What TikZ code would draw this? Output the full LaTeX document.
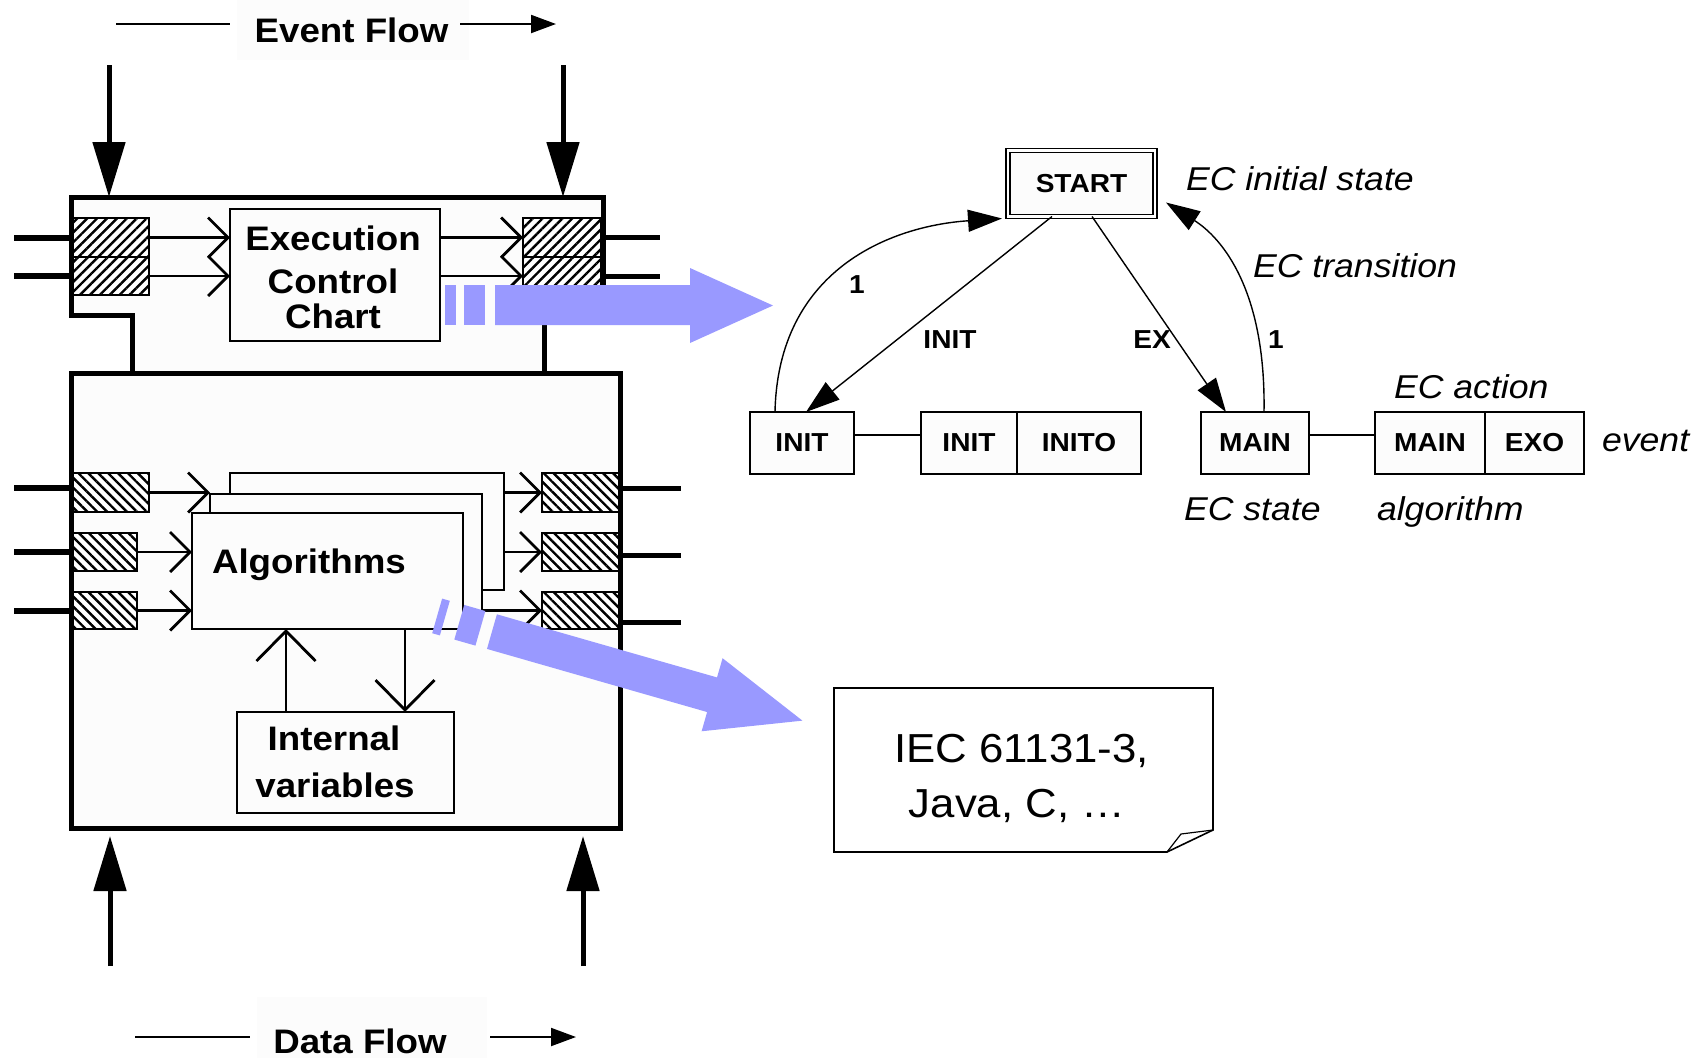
\documentclass[tikz,border=0pt]{standalone}
\usepackage{fontspec}
\setmainfont{Liberation Sans}[FakeStretch=1.08]
\usetikzlibrary{arrows.meta,patterns.meta}
\definecolor{flowblue}{RGB}{153,153,255}
\definecolor{stip}{gray}{0.99}
\tikzset{
  every node/.style={inner sep=0pt, outer sep=0pt},
  bl/.style={font=\bfseries\fontsize{34}{38}\selectfont},
  sl/.style={font=\bfseries\fontsize{26}{30}\selectfont},
  il/.style={font=\itshape\fontsize{33}{38}\selectfont},
  ll/.style={font=\fontsize{40.5}{56}\selectfont},
  heavy/.style={line width=5pt},
  inln/.style={line width=6pt},
  outln/.style={line width=5pt},
  flowln/.style={line width=2pt},
  flowarr/.style={line width=2pt, -{Triangle[length=25pt,width=18pt]}},
  bigarrow/.style={line width=5pt, -{Triangle[length=55pt,width=32pt]}},
  thinarr/.style={line width=2.8pt, -{Straight Barb[length=20pt,width=40pt]}},
  ivarr/.style={line width=2.8pt, -{Straight Barb[length=30pt,width=59pt]}},
  hatchU/.style={draw, line width=1.5pt, preaction={fill=white},
    pattern={Lines[angle=45,distance=7pt,line width=2.4pt]}, pattern color=black},
  hatchD/.style={draw, line width=1.5pt, preaction={fill=white},
    pattern={Lines[angle=-45,distance=7pt,line width=2.4pt]}, pattern color=black},
  boxn/.style={draw, line width=2pt, fill=stip},
  algbox/.style={draw, line width=1.6pt, fill=stip},
  sbox/.style={draw, line width=1.4pt, fill=stip, sl, minimum height=62pt},
  trarr/.style={line width=1.4pt, -{Triangle[length=34pt,width=22pt]}},
  trln/.style={line width=1.4pt},
  blue/.style={fill=flowblue}
}
\begin{document}
\begin{tikzpicture}[x=1pt,y=-1pt,line join=miter]
\useasboundingbox (0,0) rectangle (1703,1058);

% faint backgrounds
\fill[stip] (237,0) rectangle (469,60);
\fill[stip] (257,997) rectangle (487,1058);
\fill[stip] (71,197) rectangle (603,315);
\fill[stip] (132,315) rectangle (544,373);
\fill[stip] (71,373) rectangle (620,828);

% corner coordinates of the function block
\coordinate (ubnw) at (71,197);
\coordinate (evL) at (109,65);
\coordinate (evR) at (563,65);
\coordinate (dfL) at (110,966);
\coordinate (dfLe) at (110,836);
\coordinate (dfR) at (583,966);
\coordinate (dfRe) at (583,836);

% flow labels
\node[bl, anchor=base] (evt) at (351.5,42) {Event Flow};
\coordinate (e1) at (116,24); \coordinate (e2) at (230,24);
\coordinate (e3) at (460,24); \coordinate (e4) at (556,24);
\draw[flowln] (e1) -- (e2);
\draw[flowarr] (e3) -- (e4);
\node[bl, anchor=base] (dat) at (360,1053) {Data Flow};
\coordinate (f1) at (135,1037); \coordinate (f2) at (250,1037);
\coordinate (f3) at (490,1037); \coordinate (f4) at (576,1037);
\draw[flowln] (f1) -- (f2);
\draw[flowarr] (f3) -- (f4);

% big flow arrows
\draw[bigarrow] (evL) -- (evL |- ubnw);
\draw[bigarrow] (evR) -- (evR |- ubnw);
\draw[bigarrow] (dfL) -- (dfLe);
\draw[bigarrow] (dfR) -- (dfRe);

% hatched ports, upper part
\node[hatchU, minimum width=76pt, minimum height=39pt] (A1) at (111,237.5) {};
\node[hatchU, minimum width=76pt, minimum height=38pt] (A2) at (111,276) {};
\node[hatchU, minimum width=78pt, minimum height=39pt] (B1) at (562,237.5) {};
\node[hatchU, minimum width=78pt, minimum height=38pt] (B2) at (562,276) {};
% hatched ports, lower part
\node[hatchD, minimum width=76pt, minimum height=39pt] (C1) at (111,492.5) {};
\node[hatchD, minimum width=64pt, minimum height=38pt] (C2) at (105,552) {};
\node[hatchD, minimum width=64pt, minimum height=37pt] (C3) at (105,610.5) {};
\node[hatchD, minimum width=78pt, minimum height=39pt] (D1) at (581,492.5) {};
\node[hatchD, minimum width=78pt, minimum height=38pt] (D2) at (581,552) {};
\node[hatchD, minimum width=78pt, minimum height=37pt] (D3) at (581,610.5) {};

% function block outline
\draw[heavy] (132,373) -- (132,315) -- (71,315) -- (71,197) -- (603,197) -- (603,315) -- (544,315) -- (544,373);
\draw[heavy] (71,373) rectangle (620,828);

% inputs / outputs
\draw[inln] (A1.west) -- ++(-59,0);
\draw[inln] (A2.west) -- ++(-59,0);
\draw[outln] (B1.east) -- ++(59,0);
\draw[outln] (B2.east) -- ++(59,0);
\draw[inln] ([yshift=4.5pt]C1.west) -- ++(-59,0);
\draw[inln] (C2.west) -- ++(-59,0);
\draw[inln] (C3.west) -- ++(-59,0);
\draw[outln] ([yshift=4.5pt]D1.east) -- ++(61,0);
\draw[outln] ([yshift=-3pt]D2.east) -- ++(61,0);
\draw[outln] ([yshift=-11.5pt]D3.east) -- ++(61,0);

% ECC
\node[boxn, minimum width=210pt, minimum height=132pt] (ecc) at (335,275) {};
\node[bl, anchor=base] (ecc1) at (333,250) {Execution};
\node[bl, anchor=base] (ecc2) at (333,293) {Control};
\node[bl, anchor=base] (ecc3) at (333,328) {Chart};
\draw[thinarr] (A1.east) -- (A1.east -| ecc.west);
\draw[thinarr] (A2.east) -- (A2.east -| ecc.west);
\draw[thinarr] (B1.west -| ecc.east) -- (B1.west);
\draw[thinarr] (B2.west -| ecc.east) -- (B2.west);

% algorithms
\node[algbox, minimum width=274pt, minimum height=117pt] (algB) at (367,531.5) {};
\node[algbox, minimum width=272pt, minimum height=117pt] (algM) at (346,552.5) {};
\node[algbox, minimum width=271pt, minimum height=116pt] (algF) at (327.5,571) {};
\node[bl, anchor=base west] (algT) at (212,573) {Algorithms};
\draw[thinarr] (C1.east) -- (C1.east -| algM.west);
\draw[thinarr] (C2.east) -- (C2.east -| algF.west);
\draw[thinarr] (C3.east) -- (C3.east -| algF.west);
\draw[thinarr] (D1.west -| algB.east) -- (D1.west);
\draw[thinarr] (D2.west -| algB.east) -- (D2.west);
\draw[thinarr] (D3.west -| algM.east) -- (D3.west);

% internal variables
\node[algbox, minimum width=217pt, minimum height=101pt] (iv) at (345.5,762.5) {};
\node[bl, anchor=base] (iv1) at (334,750) {Internal};
\node[bl, anchor=base] (iv2) at (335,797) {variables};
\coordinate (ivu) at (286,0);
\coordinate (ivd) at (405,0);
\draw[ivarr] (iv.north -| ivu) -- (algF.south -| ivu);
\draw[ivarr] (algF.south -| ivd) -- (iv.north -| ivd);

% blue arrow to ECC
\fill[blue] (445,285) rectangle (456,325);
\fill[blue] (464,285) rectangle (485,325);
\fill[blue] (495,285) -- (690,285) -- (690,268) -- (773,305.5) -- (690,343) -- (690,325) -- (495,325) -- cycle;
% blue arrow to languages
\begin{scope}[shift={(441,617)}, rotate=-16]
\fill[blue] (-4,-18) rectangle (4,18);
\fill[blue] (19,-18) rectangle (41,18);
\fill[blue] (53,-18) -- (282,-18) -- (282,-38) -- (376,0) -- (282,38) -- (282,18) -- (53,18) -- cycle;
\end{scope}

% execution control chart
\node[sbox, double, double distance=2.5pt, minimum width=147pt, minimum height=66pt] (sSTART) at (1081.5,183.5) {START};
\node[sbox, minimum width=104pt] (sINIT) at (802,443) {INIT};
\node[sbox, minimum width=96pt] (aINIT) at (969,443) {INIT};
\node[sbox, minimum width=124pt] (aINITO) at (1079,443) {INITO};
\node[sbox, minimum width=108pt] (sMAIN) at (1255,443) {MAIN};
\node[sbox, minimum width=110pt] (aMAIN) at (1430,443) {MAIN};
\node[sbox, minimum width=99pt] (aEXO) at (1534.5,443) {EXO};
\draw[trln] ([yshift=8pt]sINIT.east) -- ([yshift=8pt]aINIT.west);
\draw[trln] ([yshift=8pt]sMAIN.east) -- ([yshift=8pt]aMAIN.west);
\draw[trarr] ([xshift=-29.5pt]sSTART.south) -- ([xshift=4pt]sINIT.north);
\draw[trarr] ([xshift=10.5pt]sSTART.south) -- ([xshift=-29pt]sMAIN.north);
\draw[trarr] ([xshift=-27pt]sINIT.north) .. controls (778,270) and (890,226) .. ([xshift=-6pt,yshift=-2pt]sSTART.south west);
\draw[trarr] ([xshift=9pt]sMAIN.north) .. controls (1266,290) and (1222,238) .. ([xshift=11pt,yshift=-19pt]sSTART.east);
\node[sl, anchor=base] (l1) at (857,293) {1};
\node[sl, anchor=base] (lINIT) at (950,348) {INIT};
\node[sl, anchor=base] (lEX) at (1152,348) {EX};
\node[sl, anchor=base] (l1b) at (1276,348) {1};
\node[il, anchor=base west] (tInit) at (1186,190) {EC initial state};
\node[il, anchor=base west] (tTrans) at (1253,277) {EC transition};
\node[il, anchor=base west] (tAct) at (1394,398) {EC action};
\node[il, anchor=base west] (tEv) at (1602,451) {event};
\node[il, anchor=base west] (tState) at (1184,520) {EC state};
\node[il, anchor=base west] (tAlg) at (1377,520) {algorithm};

% language note
\draw[line width=1.6pt, fill=white] (834,688) -- (1213,688) -- (1213,830) -- (1167,852) -- (834,852) -- cycle;
\draw[line width=1.2pt] (1167,852) -- (1181,834) -- (1213,830);
\node[ll, anchor=base] (lang1) at (1021.5,762) {IEC 61131-3,};
\node[ll, anchor=base] (lang2) at (1017,817) {Java, C, …};
\end{tikzpicture}
\end{document}
